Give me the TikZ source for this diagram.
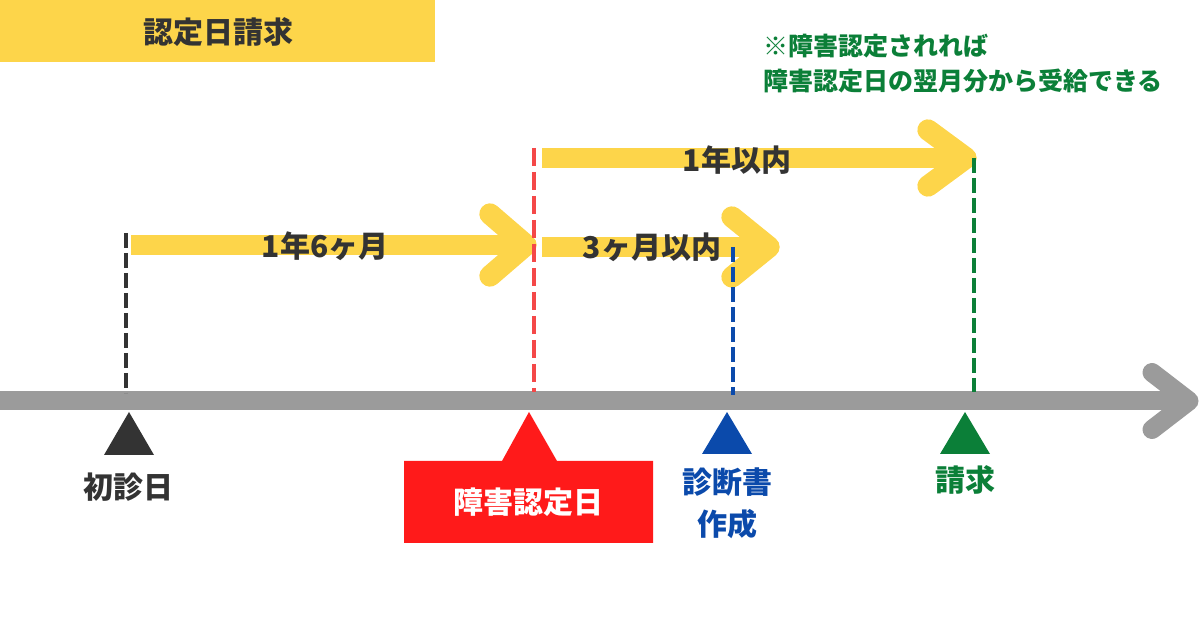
\documentclass[tikz,border=0pt]{standalone}
\usepackage{fontspec}
\setmainfont{Noto Sans CJK JP}
\usepackage{xcolor}
\definecolor{band}{RGB}{253,213,74}
\definecolor{ink}{RGB}{51,51,51}
\definecolor{axisgray}{RGB}{155,155,155}
\definecolor{reddash}{RGB}{244,72,72}
\definecolor{redbox}{RGB}{255,26,26}
\definecolor{bluemark}{RGB}{11,74,171}
\definecolor{greenmark}{RGB}{11,127,56}

\begin{document}
\begin{tikzpicture}[x=0.75pt,y=0.75pt,yscale=-1,xscale=1,
  lbl/.style={inner sep=0pt, font=\fontsize{22.5}{31.5}\selectfont\bfseries},
  yshaft/.style={draw=band, line width=15pt},
  yhead/.style={draw=band, line width=16pt, line cap=round, line join=round},
  dashline/.style={line width=3.5pt, dash pattern=on 11.25pt off 3.75pt}]
\useasboundingbox (0,0) rectangle (1200,630);

%Shape: Rectangle
\fill [band] (0,0) rectangle (435,62);

%Straight Lines (time axis)
\coordinate (ax0) at (0,401);
\coordinate (ax1) at (1189,401);
\draw [draw=axisgray, line width=14.25pt] (ax0) -- (ax1);
\draw [draw=axisgray, line width=14.25pt, line cap=round, line join=round] (ax1) ++(-37,-28.5) -- (ax1) -- ++(-37,28.5);

%Straight Lines (1 year 6 months)
\coordinate (a1s) at (131,245);
\coordinate (a1e) at (526,245);
\draw [yshaft] (a1s) -- (a1e);
\draw [yhead] (a1e) ++(-36,-31) -- (a1e) -- ++(-36,31);

%Straight Lines (3 months)
\coordinate (a2s) at (542,247);
\coordinate (a2e) at (769,247);
\draw [yshaft] (a2s) -- (a2e);
\draw [yhead] (a2e) ++(-37,-30) -- (a2e) -- ++(-37,30);

%Straight Lines (1 year)
\coordinate (a3s) at (542,158);
\coordinate (a3e) at (966,158);
\draw [yshaft] (a3s) -- (a3e);
\draw [yhead] (a3e) ++(-38,-28) -- (a3e) -- ++(-38,28);

%Straight Lines (dashed)
\coordinate (k1t) at (126,233);
\coordinate (k1b) at (126,393);
\draw [dashline, draw=ink] (k1t) -- (k1b);
\coordinate (k2t) at (534,148);
\coordinate (k2b) at (534,392);
\draw [dashline, draw=reddash, dash pattern=on 13.5pt off 4.5pt] (k2t) -- (k2b);
\coordinate (k3t) at (733,247);
\coordinate (k3b) at (733,395);
\draw [dashline, draw=bluemark] (k3t) -- (k3b);
\coordinate (k4t) at (974,158);
\coordinate (k4b) at (974,392);
\draw [dashline, draw=greenmark] (k4t) -- (k4b);

%Shape: Triangle
\fill [ink] (129,412) -- (154,455) -- (104,455) -- cycle;
\fill [redbox] (404,461) -- (502,461) -- (529,412) -- (557,461) -- (653,461) -- (653,543) -- (404,543) -- cycle;
\fill [bluemark] (727,412) -- (752,454) -- (702,454) -- cycle;
\fill [greenmark] (965,412) -- (990,454) -- (940,454) -- cycle;

% Text Node
\node (title) [lbl, text=ink] at (218,32) {認定日請求};
% Text Node
\node (span1) [lbl, text=ink] at (325,246) {1年6ヶ月};
% Text Node
\node (span2) [lbl, text=ink] at (652,247) {3ヶ月以内};
% Text Node
\node (span3) [lbl, text=ink] at (737,160) {1年以内};
% Text Node
\node (first) [lbl, text=ink] at (128,487) {初診日};
% Text Node
\node (fixday) [lbl, text=white] at (528,502) {障害認定日};
% Text Node
\node (cert) [lbl, text=bluemark, align=center] at (727,503) {診断書\\作成};
% Text Node
\node (claim) [lbl, text=greenmark] at (965,480) {請求};
% Text Node
\node (note) [inner sep=0pt, anchor=west, align=left, text=greenmark, font=\fontsize{18.75}{26.25}\selectfont\bfseries] at (763,63.5) {※障害認定されれば\\障害認定日の翌月分から受給できる};

\end{tikzpicture}
\end{document}
